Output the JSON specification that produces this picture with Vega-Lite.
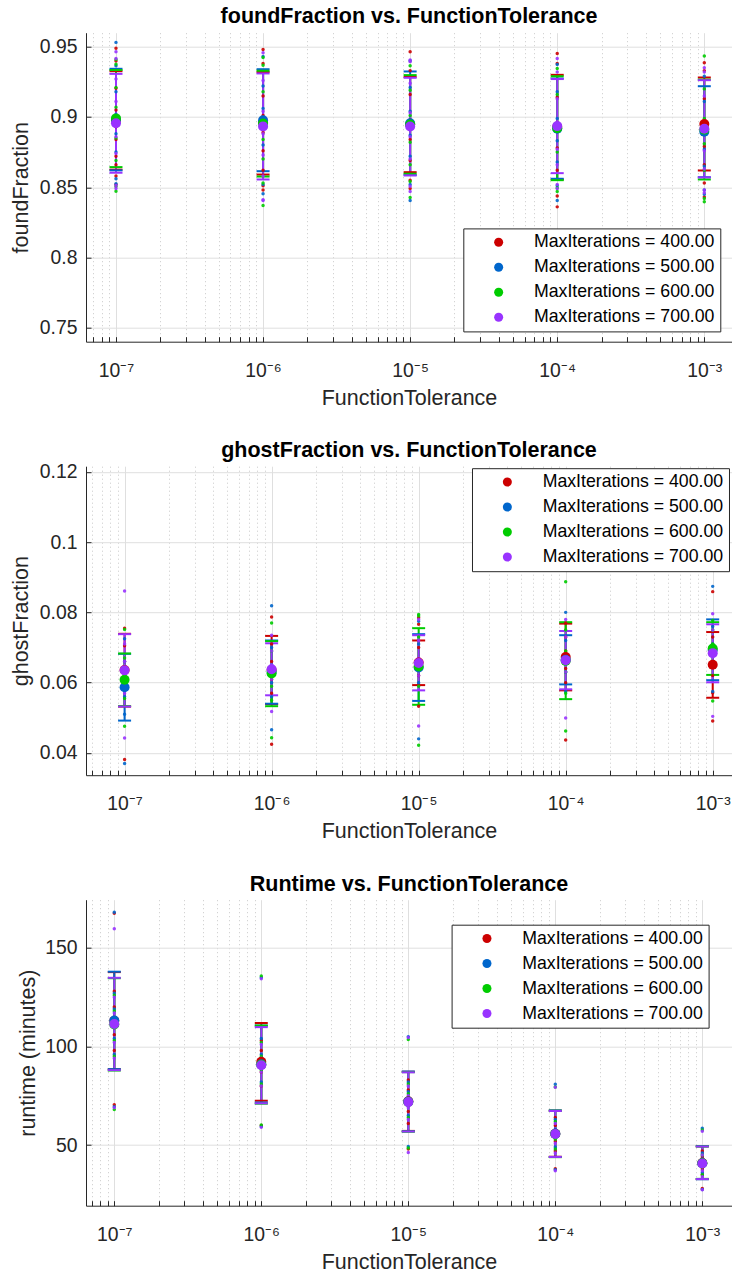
{
  "$schema": "https://vega.github.io/schema/vega-lite/v6.json",
  "autosize": {"type": "pad"},
  "padding": {"left": 10, "top": 5.7, "right": 0, "bottom": 0},
  "background": "white",
  "spacing": 124.5,
  "bounds": "flush",
  "resolve": {
    "scale": {"x": "independent", "y": "independent", "color": "shared"},
    "legend": {"color": "independent"}
  },
  "config": {
    "font": "Liberation Sans",
    "view": {"stroke": null},
    "axis": {
      "domainColor": "#262626",
      "domainWidth": 1,
      "tickColor": "#262626",
      "tickSize": -5,
      "labelColor": "#262626",
      "titleColor": "#262626",
      "labelFont": "Liberation Sans",
      "titleFont": "Liberation Sans",
      "labelFontSize": 19.4,
      "titleFontSize": 21.5,
      "titleFontWeight": "normal",
      "gridColor": "#dfdfdf",
      "gridWidth": 1,
      "labelOverlap": false,
      "labelFlush": false
    },
    "legend": {
      "padding": 5,
      "strokeColor": "#262626",
      "strokeWidth": 1,
      "fillColor": "#ffffff",
      "symbolType": "circle",
      "symbolSize": 81,
      "symbolStrokeWidth": 0,
      "symbolOffset": 21.5,
      "labelOffset": 26.5,
      "labelFont": "Liberation Sans",
      "labelFontSize": 17.7,
      "labelColor": "#000000",
      "rowPadding": 6,
      "labelLimit": 0
    },
    "title": {
      "font": "Liberation Sans",
      "fontSize": 21.5,
      "fontWeight": "bold",
      "color": "#000000",
      "anchor": "middle",
      "frame": "group",
      "baseline": "alphabetic"
    }
  },
  "datasets": {
    "pts": [
      {"p":"f","tol":1e-7,"it":400,"v":0.9489},{"p":"f","tol":1e-7,"it":400,"v":0.9398},{"p":"f","tol":1e-7,"it":400,"v":0.9205},{"p":"f","tol":1e-7,"it":400,"v":0.905},{"p":"f","tol":1e-7,"it":400,"v":0.893},{"p":"f","tol":1e-7,"it":400,"v":0.884},{"p":"f","tol":1e-7,"it":400,"v":0.872},{"p":"f","tol":1e-7,"it":400,"v":0.866},{"p":"f","tol":1e-7,"it":400,"v":0.858},{"p":"f","tol":1e-7,"it":400,"v":0.852},
      {"p":"f","tol":1e-7,"it":500,"v":0.9531},{"p":"f","tol":1e-7,"it":500,"v":0.9365},{"p":"f","tol":1e-7,"it":500,"v":0.918},{"p":"f","tol":1e-7,"it":500,"v":0.902},{"p":"f","tol":1e-7,"it":500,"v":0.895},{"p":"f","tol":1e-7,"it":500,"v":0.888},{"p":"f","tol":1e-7,"it":500,"v":0.875},{"p":"f","tol":1e-7,"it":500,"v":0.856},{"p":"f","tol":1e-7,"it":500,"v":0.8525},
      {"p":"f","tol":1e-7,"it":600,"v":0.9376},{"p":"f","tol":1e-7,"it":600,"v":0.941},{"p":"f","tol":1e-7,"it":600,"v":0.921},{"p":"f","tol":1e-7,"it":600,"v":0.907},{"p":"f","tol":1e-7,"it":600,"v":0.896},{"p":"f","tol":1e-7,"it":600,"v":0.885},{"p":"f","tol":1e-7,"it":600,"v":0.869},{"p":"f","tol":1e-7,"it":600,"v":0.8505},{"p":"f","tol":1e-7,"it":600,"v":0.8471},
      {"p":"f","tol":1e-7,"it":700,"v":0.9465},{"p":"f","tol":1e-7,"it":700,"v":0.9416},{"p":"f","tol":1e-7,"it":700,"v":0.927},{"p":"f","tol":1e-7,"it":700,"v":0.911},{"p":"f","tol":1e-7,"it":700,"v":0.899},{"p":"f","tol":1e-7,"it":700,"v":0.886},{"p":"f","tol":1e-7,"it":700,"v":0.874},{"p":"f","tol":1e-7,"it":700,"v":0.8512},{"p":"f","tol":1e-7,"it":700,"v":0.849},
      {"p":"f","tol":1e-6,"it":400,"v":0.9481},{"p":"f","tol":1e-6,"it":400,"v":0.938},{"p":"f","tol":1e-6,"it":400,"v":0.915},{"p":"f","tol":1e-6,"it":400,"v":0.901},{"p":"f","tol":1e-6,"it":400,"v":0.889},{"p":"f","tol":1e-6,"it":400,"v":0.876},{"p":"f","tol":1e-6,"it":400,"v":0.862},{"p":"f","tol":1e-6,"it":400,"v":0.851},{"p":"f","tol":1e-6,"it":400,"v":0.848},
      {"p":"f","tol":1e-6,"it":500,"v":0.943},{"p":"f","tol":1e-6,"it":500,"v":0.922},{"p":"f","tol":1e-6,"it":500,"v":0.906},{"p":"f","tol":1e-6,"it":500,"v":0.893},{"p":"f","tol":1e-6,"it":500,"v":0.88},{"p":"f","tol":1e-6,"it":500,"v":0.852},{"p":"f","tol":1e-6,"it":500,"v":0.8453},
      {"p":"f","tol":1e-6,"it":600,"v":0.9424},{"p":"f","tol":1e-6,"it":600,"v":0.9369},{"p":"f","tol":1e-6,"it":600,"v":0.918},{"p":"f","tol":1e-6,"it":600,"v":0.899},{"p":"f","tol":1e-6,"it":600,"v":0.884},{"p":"f","tol":1e-6,"it":600,"v":0.87},{"p":"f","tol":1e-6,"it":600,"v":0.853},{"p":"f","tol":1e-6,"it":600,"v":0.8369},
      {"p":"f","tol":1e-6,"it":700,"v":0.9457},{"p":"f","tol":1e-6,"it":700,"v":0.926},{"p":"f","tol":1e-6,"it":700,"v":0.904},{"p":"f","tol":1e-6,"it":700,"v":0.888},{"p":"f","tol":1e-6,"it":700,"v":0.873},{"p":"f","tol":1e-6,"it":700,"v":0.858},{"p":"f","tol":1e-6,"it":700,"v":0.841},{"p":"f","tol":1e-6,"it":700,"v":0.8405},
      {"p":"f","tol":1e-5,"it":400,"v":0.9465},{"p":"f","tol":1e-5,"it":400,"v":0.933},{"p":"f","tol":1e-5,"it":400,"v":0.916},{"p":"f","tol":1e-5,"it":400,"v":0.898},{"p":"f","tol":1e-5,"it":400,"v":0.884},{"p":"f","tol":1e-5,"it":400,"v":0.869},{"p":"f","tol":1e-5,"it":400,"v":0.855},{"p":"f","tol":1e-5,"it":400,"v":0.849},
      {"p":"f","tol":1e-5,"it":500,"v":0.94},{"p":"f","tol":1e-5,"it":500,"v":0.921},{"p":"f","tol":1e-5,"it":500,"v":0.904},{"p":"f","tol":1e-5,"it":500,"v":0.887},{"p":"f","tol":1e-5,"it":500,"v":0.872},{"p":"f","tol":1e-5,"it":500,"v":0.852},{"p":"f","tol":1e-5,"it":500,"v":0.8405},
      {"p":"f","tol":1e-5,"it":600,"v":0.9365},{"p":"f","tol":1e-5,"it":600,"v":0.919},{"p":"f","tol":1e-5,"it":600,"v":0.901},{"p":"f","tol":1e-5,"it":600,"v":0.882},{"p":"f","tol":1e-5,"it":600,"v":0.866},{"p":"f","tol":1e-5,"it":600,"v":0.854},{"p":"f","tol":1e-5,"it":600,"v":0.8426},
      {"p":"f","tol":1e-5,"it":700,"v":0.9405},{"p":"f","tol":1e-5,"it":700,"v":0.9394},{"p":"f","tol":1e-5,"it":700,"v":0.924},{"p":"f","tol":1e-5,"it":700,"v":0.903},{"p":"f","tol":1e-5,"it":700,"v":0.886},{"p":"f","tol":1e-5,"it":700,"v":0.87},{"p":"f","tol":1e-5,"it":700,"v":0.8507},{"p":"f","tol":1e-5,"it":700,"v":0.847},
      {"p":"f","tol":1e-4,"it":400,"v":0.9452},{"p":"f","tol":1e-4,"it":400,"v":0.938},{"p":"f","tol":1e-4,"it":400,"v":0.914},{"p":"f","tol":1e-4,"it":400,"v":0.896},{"p":"f","tol":1e-4,"it":400,"v":0.878},{"p":"f","tol":1e-4,"it":400,"v":0.862},{"p":"f","tol":1e-4,"it":400,"v":0.8438},{"p":"f","tol":1e-4,"it":400,"v":0.836},
      {"p":"f","tol":1e-4,"it":500,"v":0.9373},{"p":"f","tol":1e-4,"it":500,"v":0.918},{"p":"f","tol":1e-4,"it":500,"v":0.899},{"p":"f","tol":1e-4,"it":500,"v":0.883},{"p":"f","tol":1e-4,"it":500,"v":0.868},{"p":"f","tol":1e-4,"it":500,"v":0.851},{"p":"f","tol":1e-4,"it":500,"v":0.8405},
      {"p":"f","tol":1e-4,"it":600,"v":0.9345},{"p":"f","tol":1e-4,"it":600,"v":0.916},{"p":"f","tol":1e-4,"it":600,"v":0.895},{"p":"f","tol":1e-4,"it":600,"v":0.875},{"p":"f","tol":1e-4,"it":600,"v":0.8495},{"p":"f","tol":1e-4,"it":600,"v":0.847},
      {"p":"f","tol":1e-4,"it":700,"v":0.9417},{"p":"f","tol":1e-4,"it":700,"v":0.932},{"p":"f","tol":1e-4,"it":700,"v":0.913},{"p":"f","tol":1e-4,"it":700,"v":0.894},{"p":"f","tol":1e-4,"it":700,"v":0.877},{"p":"f","tol":1e-4,"it":700,"v":0.866},{"p":"f","tol":1e-4,"it":700,"v":0.852},{"p":"f","tol":1e-4,"it":700,"v":0.849},
      {"p":"f","tol":1e-3,"it":400,"v":0.9386},{"p":"f","tol":1e-3,"it":400,"v":0.933},{"p":"f","tol":1e-3,"it":400,"v":0.913},{"p":"f","tol":1e-3,"it":400,"v":0.897},{"p":"f","tol":1e-3,"it":400,"v":0.879},{"p":"f","tol":1e-3,"it":400,"v":0.866},{"p":"f","tol":1e-3,"it":400,"v":0.853},{"p":"f","tol":1e-3,"it":400,"v":0.843},
      {"p":"f","tol":1e-3,"it":500,"v":0.929},{"p":"f","tol":1e-3,"it":500,"v":0.911},{"p":"f","tol":1e-3,"it":500,"v":0.893},{"p":"f","tol":1e-3,"it":500,"v":0.877},{"p":"f","tol":1e-3,"it":500,"v":0.865},{"p":"f","tol":1e-3,"it":500,"v":0.848},{"p":"f","tol":1e-3,"it":500,"v":0.845},
      {"p":"f","tol":1e-3,"it":600,"v":0.9434},{"p":"f","tol":1e-3,"it":600,"v":0.92},{"p":"f","tol":1e-3,"it":600,"v":0.899},{"p":"f","tol":1e-3,"it":600,"v":0.881},{"p":"f","tol":1e-3,"it":600,"v":0.862},{"p":"f","tol":1e-3,"it":600,"v":0.842},{"p":"f","tol":1e-3,"it":600,"v":0.8397},
      {"p":"f","tol":1e-3,"it":700,"v":0.935},{"p":"f","tol":1e-3,"it":700,"v":0.932},{"p":"f","tol":1e-3,"it":700,"v":0.915},{"p":"f","tol":1e-3,"it":700,"v":0.894},{"p":"f","tol":1e-3,"it":700,"v":0.876},{"p":"f","tol":1e-3,"it":700,"v":0.863},{"p":"f","tol":1e-3,"it":700,"v":0.848},{"p":"f","tol":1e-3,"it":700,"v":0.846},

      {"p":"g","tol":1e-7,"it":400,"v":0.07545},{"p":"g","tol":1e-7,"it":400,"v":0.0705},{"p":"g","tol":1e-7,"it":400,"v":0.066},{"p":"g","tol":1e-7,"it":400,"v":0.062},{"p":"g","tol":1e-7,"it":400,"v":0.058},{"p":"g","tol":1e-7,"it":400,"v":0.0381},
      {"p":"g","tol":1e-7,"it":500,"v":0.0725},{"p":"g","tol":1e-7,"it":500,"v":0.066},{"p":"g","tol":1e-7,"it":500,"v":0.061},{"p":"g","tol":1e-7,"it":500,"v":0.056},{"p":"g","tol":1e-7,"it":500,"v":0.051},{"p":"g","tol":1e-7,"it":500,"v":0.037},
      {"p":"g","tol":1e-7,"it":600,"v":0.0751},{"p":"g","tol":1e-7,"it":600,"v":0.067},{"p":"g","tol":1e-7,"it":600,"v":0.062},{"p":"g","tol":1e-7,"it":600,"v":0.058},{"p":"g","tol":1e-7,"it":600,"v":0.0555},{"p":"g","tol":1e-7,"it":600,"v":0.04757},
      {"p":"g","tol":1e-7,"it":700,"v":0.0861},{"p":"g","tol":1e-7,"it":700,"v":0.071},{"p":"g","tol":1e-7,"it":700,"v":0.066},{"p":"g","tol":1e-7,"it":700,"v":0.061},{"p":"g","tol":1e-7,"it":700,"v":0.057},{"p":"g","tol":1e-7,"it":700,"v":0.04424},
      {"p":"g","tol":1e-6,"it":400,"v":0.0787},{"p":"g","tol":1e-6,"it":400,"v":0.071},{"p":"g","tol":1e-6,"it":400,"v":0.066},{"p":"g","tol":1e-6,"it":400,"v":0.061},{"p":"g","tol":1e-6,"it":400,"v":0.057},{"p":"g","tol":1e-6,"it":400,"v":0.04245},
      {"p":"g","tol":1e-6,"it":500,"v":0.0819},{"p":"g","tol":1e-6,"it":500,"v":0.07},{"p":"g","tol":1e-6,"it":500,"v":0.065},{"p":"g","tol":1e-6,"it":500,"v":0.06},{"p":"g","tol":1e-6,"it":500,"v":0.056},{"p":"g","tol":1e-6,"it":500,"v":0.0466},
      {"p":"g","tol":1e-6,"it":600,"v":0.077},{"p":"g","tol":1e-6,"it":600,"v":0.069},{"p":"g","tol":1e-6,"it":600,"v":0.064},{"p":"g","tol":1e-6,"it":600,"v":0.059},{"p":"g","tol":1e-6,"it":600,"v":0.055},{"p":"g","tol":1e-6,"it":600,"v":0.04433},
      {"p":"g","tol":1e-6,"it":700,"v":0.0735},{"p":"g","tol":1e-6,"it":700,"v":0.069},{"p":"g","tol":1e-6,"it":700,"v":0.065},{"p":"g","tol":1e-6,"it":700,"v":0.061},{"p":"g","tol":1e-6,"it":700,"v":0.0518},
      {"p":"g","tol":1e-5,"it":400,"v":0.0785},{"p":"g","tol":1e-5,"it":400,"v":0.0766},{"p":"g","tol":1e-5,"it":400,"v":0.07},{"p":"g","tol":1e-5,"it":400,"v":0.066},{"p":"g","tol":1e-5,"it":400,"v":0.062},{"p":"g","tol":1e-5,"it":400,"v":0.0533},
      {"p":"g","tol":1e-5,"it":500,"v":0.0775},{"p":"g","tol":1e-5,"it":500,"v":0.071},{"p":"g","tol":1e-5,"it":500,"v":0.066},{"p":"g","tol":1e-5,"it":500,"v":0.06},{"p":"g","tol":1e-5,"it":500,"v":0.044},
      {"p":"g","tol":1e-5,"it":600,"v":0.0794},{"p":"g","tol":1e-5,"it":600,"v":0.079},{"p":"g","tol":1e-5,"it":600,"v":0.073},{"p":"g","tol":1e-5,"it":600,"v":0.066},{"p":"g","tol":1e-5,"it":600,"v":0.059},{"p":"g","tol":1e-5,"it":600,"v":0.04216},
      {"p":"g","tol":1e-5,"it":700,"v":0.078},{"p":"g","tol":1e-5,"it":700,"v":0.072},{"p":"g","tol":1e-5,"it":700,"v":0.067},{"p":"g","tol":1e-5,"it":700,"v":0.062},{"p":"g","tol":1e-5,"it":700,"v":0.04765},
      {"p":"g","tol":1e-4,"it":400,"v":0.077},{"p":"g","tol":1e-4,"it":400,"v":0.073},{"p":"g","tol":1e-4,"it":400,"v":0.069},{"p":"g","tol":1e-4,"it":400,"v":0.064},{"p":"g","tol":1e-4,"it":400,"v":0.06},{"p":"g","tol":1e-4,"it":400,"v":0.04367},
      {"p":"g","tol":1e-4,"it":500,"v":0.08},{"p":"g","tol":1e-4,"it":500,"v":0.072},{"p":"g","tol":1e-4,"it":500,"v":0.068},{"p":"g","tol":1e-4,"it":500,"v":0.063},{"p":"g","tol":1e-4,"it":500,"v":0.0575},
      {"p":"g","tol":1e-4,"it":600,"v":0.0887},{"p":"g","tol":1e-4,"it":600,"v":0.075},{"p":"g","tol":1e-4,"it":600,"v":0.069},{"p":"g","tol":1e-4,"it":600,"v":0.063},{"p":"g","tol":1e-4,"it":600,"v":0.057},{"p":"g","tol":1e-4,"it":600,"v":0.04623},
      {"p":"g","tol":1e-4,"it":700,"v":0.078},{"p":"g","tol":1e-4,"it":700,"v":0.073},{"p":"g","tol":1e-4,"it":700,"v":0.068},{"p":"g","tol":1e-4,"it":700,"v":0.063},{"p":"g","tol":1e-4,"it":700,"v":0.04993},
      {"p":"g","tol":1e-3,"it":400,"v":0.0859},{"p":"g","tol":1e-3,"it":400,"v":0.073},{"p":"g","tol":1e-3,"it":400,"v":0.068},{"p":"g","tol":1e-3,"it":400,"v":0.062},{"p":"g","tol":1e-3,"it":400,"v":0.0571},{"p":"g","tol":1e-3,"it":400,"v":0.0491},
      {"p":"g","tol":1e-3,"it":500,"v":0.0874},{"p":"g","tol":1e-3,"it":500,"v":0.076},{"p":"g","tol":1e-3,"it":500,"v":0.071},{"p":"g","tol":1e-3,"it":500,"v":0.065},{"p":"g","tol":1e-3,"it":500,"v":0.0575},
      {"p":"g","tol":1e-3,"it":600,"v":0.0777},{"p":"g","tol":1e-3,"it":600,"v":0.075},{"p":"g","tol":1e-3,"it":600,"v":0.071},{"p":"g","tol":1e-3,"it":600,"v":0.066},{"p":"g","tol":1e-3,"it":600,"v":0.0548},
      {"p":"g","tol":1e-3,"it":700,"v":0.0796},{"p":"g","tol":1e-3,"it":700,"v":0.075},{"p":"g","tol":1e-3,"it":700,"v":0.07},{"p":"g","tol":1e-3,"it":700,"v":0.065},{"p":"g","tol":1e-3,"it":700,"v":0.0504},

      {"p":"r","tol":1e-7,"it":400,"v":167.5},{"p":"r","tol":1e-7,"it":400,"v":128},{"p":"r","tol":1e-7,"it":400,"v":120},{"p":"r","tol":1e-7,"it":400,"v":113},{"p":"r","tol":1e-7,"it":400,"v":106},{"p":"r","tol":1e-7,"it":400,"v":98},{"p":"r","tol":1e-7,"it":400,"v":70.5},
      {"p":"r","tol":1e-7,"it":500,"v":168},{"p":"r","tol":1e-7,"it":500,"v":127},{"p":"r","tol":1e-7,"it":500,"v":119},{"p":"r","tol":1e-7,"it":500,"v":112},{"p":"r","tol":1e-7,"it":500,"v":104},{"p":"r","tol":1e-7,"it":500,"v":96},{"p":"r","tol":1e-7,"it":500,"v":69.5},
      {"p":"r","tol":1e-7,"it":600,"v":126},{"p":"r","tol":1e-7,"it":600,"v":118},{"p":"r","tol":1e-7,"it":600,"v":110},{"p":"r","tol":1e-7,"it":600,"v":103},{"p":"r","tol":1e-7,"it":600,"v":95},{"p":"r","tol":1e-7,"it":600,"v":68},
      {"p":"r","tol":1e-7,"it":700,"v":159.7},{"p":"r","tol":1e-7,"it":700,"v":125},{"p":"r","tol":1e-7,"it":700,"v":117},{"p":"r","tol":1e-7,"it":700,"v":110},{"p":"r","tol":1e-7,"it":700,"v":102},{"p":"r","tol":1e-7,"it":700,"v":94},{"p":"r","tol":1e-7,"it":700,"v":69},
      {"p":"r","tol":1e-6,"it":400,"v":103},{"p":"r","tol":1e-6,"it":400,"v":98},{"p":"r","tol":1e-6,"it":400,"v":92},{"p":"r","tol":1e-6,"it":400,"v":87},{"p":"r","tol":1e-6,"it":400,"v":80},{"p":"r","tol":1e-6,"it":400,"v":60},
      {"p":"r","tol":1e-6,"it":500,"v":135},{"p":"r","tol":1e-6,"it":500,"v":104},{"p":"r","tol":1e-6,"it":500,"v":96},{"p":"r","tol":1e-6,"it":500,"v":89},{"p":"r","tol":1e-6,"it":500,"v":82},{"p":"r","tol":1e-6,"it":500,"v":59.5},
      {"p":"r","tol":1e-6,"it":600,"v":135.7},{"p":"r","tol":1e-6,"it":600,"v":102},{"p":"r","tol":1e-6,"it":600,"v":95},{"p":"r","tol":1e-6,"it":600,"v":88},{"p":"r","tol":1e-6,"it":600,"v":81},{"p":"r","tol":1e-6,"it":600,"v":60.2},
      {"p":"r","tol":1e-6,"it":700,"v":134.3},{"p":"r","tol":1e-6,"it":700,"v":101},{"p":"r","tol":1e-6,"it":700,"v":94},{"p":"r","tol":1e-6,"it":700,"v":87},{"p":"r","tol":1e-6,"it":700,"v":80},{"p":"r","tol":1e-6,"it":700,"v":59},
      {"p":"r","tol":1e-5,"it":400,"v":83},{"p":"r","tol":1e-5,"it":400,"v":78},{"p":"r","tol":1e-5,"it":400,"v":72},{"p":"r","tol":1e-5,"it":400,"v":67},{"p":"r","tol":1e-5,"it":400,"v":61},{"p":"r","tol":1e-5,"it":400,"v":48},
      {"p":"r","tol":1e-5,"it":500,"v":105},{"p":"r","tol":1e-5,"it":500,"v":82},{"p":"r","tol":1e-5,"it":500,"v":77},{"p":"r","tol":1e-5,"it":500,"v":71},{"p":"r","tol":1e-5,"it":500,"v":65},{"p":"r","tol":1e-5,"it":500,"v":49.3},
      {"p":"r","tol":1e-5,"it":600,"v":103.5},{"p":"r","tol":1e-5,"it":600,"v":81},{"p":"r","tol":1e-5,"it":600,"v":76},{"p":"r","tol":1e-5,"it":600,"v":70},{"p":"r","tol":1e-5,"it":600,"v":64},{"p":"r","tol":1e-5,"it":600,"v":48.5},
      {"p":"r","tol":1e-5,"it":700,"v":104.5},{"p":"r","tol":1e-5,"it":700,"v":80},{"p":"r","tol":1e-5,"it":700,"v":75},{"p":"r","tol":1e-5,"it":700,"v":69},{"p":"r","tol":1e-5,"it":700,"v":63},{"p":"r","tol":1e-5,"it":700,"v":46.3},
      {"p":"r","tol":1e-4,"it":400,"v":64},{"p":"r","tol":1e-4,"it":400,"v":60},{"p":"r","tol":1e-4,"it":400,"v":56},{"p":"r","tol":1e-4,"it":400,"v":52},{"p":"r","tol":1e-4,"it":400,"v":47},{"p":"r","tol":1e-4,"it":400,"v":38},
      {"p":"r","tol":1e-4,"it":500,"v":80.8},{"p":"r","tol":1e-4,"it":500,"v":63},{"p":"r","tol":1e-4,"it":500,"v":58},{"p":"r","tol":1e-4,"it":500,"v":54},{"p":"r","tol":1e-4,"it":500,"v":49},{"p":"r","tol":1e-4,"it":500,"v":37.5},
      {"p":"r","tol":1e-4,"it":600,"v":79.5},{"p":"r","tol":1e-4,"it":600,"v":62},{"p":"r","tol":1e-4,"it":600,"v":57},{"p":"r","tol":1e-4,"it":600,"v":53},{"p":"r","tol":1e-4,"it":600,"v":48},
      {"p":"r","tol":1e-4,"it":700,"v":79.3},{"p":"r","tol":1e-4,"it":700,"v":61},{"p":"r","tol":1e-4,"it":700,"v":56},{"p":"r","tol":1e-4,"it":700,"v":51},{"p":"r","tol":1e-4,"it":700,"v":46},{"p":"r","tol":1e-4,"it":700,"v":37},
      {"p":"r","tol":1e-3,"it":400,"v":47},{"p":"r","tol":1e-3,"it":400,"v":44},{"p":"r","tol":1e-3,"it":400,"v":41},{"p":"r","tol":1e-3,"it":400,"v":38},{"p":"r","tol":1e-3,"it":400,"v":35},{"p":"r","tol":1e-3,"it":400,"v":28},
      {"p":"r","tol":1e-3,"it":500,"v":58.5},{"p":"r","tol":1e-3,"it":500,"v":46},{"p":"r","tol":1e-3,"it":500,"v":43},{"p":"r","tol":1e-3,"it":500,"v":40},{"p":"r","tol":1e-3,"it":500,"v":36},{"p":"r","tol":1e-3,"it":500,"v":27.5},
      {"p":"r","tol":1e-3,"it":600,"v":57.7},{"p":"r","tol":1e-3,"it":600,"v":45},{"p":"r","tol":1e-3,"it":600,"v":42},{"p":"r","tol":1e-3,"it":600,"v":39},{"p":"r","tol":1e-3,"it":600,"v":35},
      {"p":"r","tol":1e-3,"it":700,"v":57},{"p":"r","tol":1e-3,"it":700,"v":45},{"p":"r","tol":1e-3,"it":700,"v":41},{"p":"r","tol":1e-3,"it":700,"v":37},{"p":"r","tol":1e-3,"it":700,"v":34},{"p":"r","tol":1e-3,"it":700,"v":27.4}
    ],
    "stats": [
      {"p":"f","tol":1e-7,"it":400,"m":0.8975,"lo":0.8625,"hi":0.9326},
      {"p":"f","tol":1e-7,"it":500,"m":0.898,"lo":0.862,"hi":0.9343},
      {"p":"f","tol":1e-7,"it":600,"m":0.899,"lo":0.8643,"hi":0.9334},
      {"p":"f","tol":1e-7,"it":700,"m":0.8955,"lo":0.8603,"hi":0.9307},
      {"p":"f","tol":1e-6,"it":400,"m":0.896,"lo":0.859,"hi":0.932},
      {"p":"f","tol":1e-6,"it":500,"m":0.8977,"lo":0.8614,"hi":0.934},
      {"p":"f","tol":1e-6,"it":600,"m":0.8953,"lo":0.8576,"hi":0.9329},
      {"p":"f","tol":1e-6,"it":700,"m":0.8933,"lo":0.8555,"hi":0.931},
      {"p":"f","tol":1e-5,"it":400,"m":0.8947,"lo":0.8607,"hi":0.9286},
      {"p":"f","tol":1e-5,"it":500,"m":0.8955,"lo":0.8586,"hi":0.9324},
      {"p":"f","tol":1e-5,"it":600,"m":0.8947,"lo":0.8596,"hi":0.9298},
      {"p":"f","tol":1e-5,"it":700,"m":0.8932,"lo":0.8584,"hi":0.9279},
      {"p":"f","tol":1e-4,"it":400,"m":0.8928,"lo":0.8555,"hi":0.93},
      {"p":"f","tol":1e-4,"it":500,"m":0.8917,"lo":0.856,"hi":0.9274},
      {"p":"f","tol":1e-4,"it":600,"m":0.892,"lo":0.855,"hi":0.929},
      {"p":"f","tol":1e-4,"it":700,"m":0.8935,"lo":0.86,"hi":0.927},
      {"p":"f","tol":1e-3,"it":400,"m":0.895,"lo":0.8619,"hi":0.9281},
      {"p":"f","tol":1e-3,"it":500,"m":0.8895,"lo":0.8571,"hi":0.9219},
      {"p":"f","tol":1e-3,"it":600,"m":0.891,"lo":0.8555,"hi":0.9266},
      {"p":"f","tol":1e-3,"it":700,"m":0.8916,"lo":0.857,"hi":0.9262},

      {"p":"g","tol":1e-7,"it":400,"m":0.0636,"lo":0.0532,"hi":0.0739},
      {"p":"g","tol":1e-7,"it":500,"m":0.0587,"lo":0.0492,"hi":0.0682},
      {"p":"g","tol":1e-7,"it":600,"m":0.0608,"lo":0.0533,"hi":0.0683},
      {"p":"g","tol":1e-7,"it":700,"m":0.0635,"lo":0.0532,"hi":0.0738},
      {"p":"g","tol":1e-6,"it":400,"m":0.0636,"lo":0.0539,"hi":0.0733},
      {"p":"g","tol":1e-6,"it":500,"m":0.063,"lo":0.054,"hi":0.072},
      {"p":"g","tol":1e-6,"it":600,"m":0.0626,"lo":0.0533,"hi":0.0718},
      {"p":"g","tol":1e-6,"it":700,"m":0.0638,"lo":0.0564,"hi":0.0712},
      {"p":"g","tol":1e-5,"it":400,"m":0.0657,"lo":0.0593,"hi":0.072},
      {"p":"g","tol":1e-5,"it":500,"m":0.0643,"lo":0.0548,"hi":0.0738},
      {"p":"g","tol":1e-5,"it":600,"m":0.0646,"lo":0.0537,"hi":0.0755},
      {"p":"g","tol":1e-5,"it":700,"m":0.0656,"lo":0.0578,"hi":0.0735},
      {"p":"g","tol":1e-4,"it":400,"m":0.0673,"lo":0.0578,"hi":0.0768},
      {"p":"g","tol":1e-4,"it":500,"m":0.0665,"lo":0.0595,"hi":0.0735},
      {"p":"g","tol":1e-4,"it":600,"m":0.0662,"lo":0.0553,"hi":0.0772},
      {"p":"g","tol":1e-4,"it":700,"m":0.0664,"lo":0.0581,"hi":0.0747},
      {"p":"g","tol":1e-3,"it":400,"m":0.0651,"lo":0.0557,"hi":0.0744},
      {"p":"g","tol":1e-3,"it":500,"m":0.0693,"lo":0.0607,"hi":0.078},
      {"p":"g","tol":1e-3,"it":600,"m":0.0697,"lo":0.0622,"hi":0.0772},
      {"p":"g","tol":1e-3,"it":700,"m":0.0684,"lo":0.0601,"hi":0.0766},

      {"p":"r","tol":1e-7,"it":400,"m":113,"lo":88.5,"hi":137.7},
      {"p":"r","tol":1e-7,"it":500,"m":113.2,"lo":88.5,"hi":137.9},
      {"p":"r","tol":1e-7,"it":600,"m":111.2,"lo":87.8,"hi":134.6},
      {"p":"r","tol":1e-7,"it":700,"m":111.4,"lo":88,"hi":134.8},
      {"p":"r","tol":1e-6,"it":400,"m":92.2,"lo":72.5,"hi":111.9},
      {"p":"r","tol":1e-6,"it":500,"m":91,"lo":71.6,"hi":110.6},
      {"p":"r","tol":1e-6,"it":600,"m":90.8,"lo":71,"hi":110.6},
      {"p":"r","tol":1e-6,"it":700,"m":90.5,"lo":71.2,"hi":109.8},
      {"p":"r","tol":1e-5,"it":400,"m":72.2,"lo":57.2,"hi":87.2},
      {"p":"r","tol":1e-5,"it":500,"m":72.1,"lo":57,"hi":87.3},
      {"p":"r","tol":1e-5,"it":600,"m":71.9,"lo":56.8,"hi":87},
      {"p":"r","tol":1e-5,"it":700,"m":71.8,"lo":56.9,"hi":86.9},
      {"p":"r","tol":1e-4,"it":400,"m":55.8,"lo":44.1,"hi":67.5},
      {"p":"r","tol":1e-4,"it":500,"m":55.7,"lo":44,"hi":67.6},
      {"p":"r","tol":1e-4,"it":600,"m":55.6,"lo":43.9,"hi":67.4},
      {"p":"r","tol":1e-4,"it":700,"m":55.6,"lo":44,"hi":67.3},
      {"p":"r","tol":1e-3,"it":400,"m":40.9,"lo":32.8,"hi":49.4},
      {"p":"r","tol":1e-3,"it":500,"m":40.8,"lo":32.7,"hi":49.5},
      {"p":"r","tol":1e-3,"it":600,"m":40.8,"lo":32.9,"hi":49.3},
      {"p":"r","tol":1e-3,"it":700,"m":40.7,"lo":32.8,"hi":49.3}
    ]
  },
  "vconcat": [
    {
      "width": 646,
      "height": 309,
      "title": {"text": "foundFraction vs. FunctionTolerance", "offset": 5.4},
      "encoding": {
        "x": {
          "field": "tol", "type": "quantitative", "title": "FunctionTolerance",
          "scale": {"type": "log", "domain": [6.254e-8, 1.5426e-3], "nice": false},
          "axis": {
            "values": [7e-8, 8e-8, 9e-8, 1e-7, 2e-7, 3e-7, 4e-7, 5e-7, 6e-7, 7e-7, 8e-7, 9e-7, 1e-6, 2e-6, 3e-6, 4e-6, 5e-6, 6e-6, 7e-6, 8e-6, 9e-6, 1e-5, 2e-5, 3e-5, 4e-5, 5e-5, 6e-5, 7e-5, 8e-5, 9e-5, 1e-4, 2e-4, 3e-4, 4e-4, 5e-4, 6e-4, 7e-4, 8e-4, 9e-4, 1e-3],
            "labelExpr": "abs(log(datum.value)/LN10 - round(log(datum.value)/LN10)) < 0.001 ? '10' + replace(replace(replace(replace(replace(replace('' + round(log(datum.value)/LN10), '-', '⁻'), '7', '⁷'), '6', '⁶'), '5', '⁵'), '4', '⁴'), '3', '³') : ''",
            "labelBaseline": "alphabetic",
            "labelAlign": "center",
            "labelPadding": 39.4,
            "titleY": 62.7,
            "titleBaseline": "alphabetic",
            "gridDash": {"condition": {"test": "abs(log(datum.value)/LN10 - round(log(datum.value)/LN10)) < 0.001", "value": []}, "value": [1, 3]},
            "gridColor": {"condition": {"test": "abs(log(datum.value)/LN10 - round(log(datum.value)/LN10)) < 0.001", "value": "#dfdfdf"}, "value": "#c9c9c9"}
          }
        },
        "color": {
          "field": "it", "type": "nominal",
          "scale": {"domain": [400, 500, 600, 700], "range": ["#cc0000", "#0066cc", "#00cc00", "#9933ff"]},
          "legend": {"orient": "none", "legendX": 377.3, "legendY": 195.7, "title": null, "labelExpr": "'MaxIterations = ' + format(datum.value, '.2f')"}
        }
      },
      "layer": [
        {
          "data": {"name": "stats"},
          "transform": [{"filter": "datum.p == 'f'"}],
          "mark": {"type": "rule", "strokeWidth": 2},
          "encoding": {
            "y": {"field": "lo", "type": "quantitative", "title": "foundFraction",
                  "scale": {"domain": [0.74, 0.96], "nice": false, "zero": false},
                  "axis": {"values": [0.75, 0.8, 0.85, 0.9, 0.95], "labelExpr": "'' + datum.value", "labelPadding": 14, "labelBaseline": "middle", "titleX": -58.4, "titleY": 154.5, "titleAngle": 270, "titleAlign": "center", "titleBaseline": "alphabetic"}},
            "y2": {"field": "hi"}
          }
        },
        {
          "data": {"name": "stats"},
          "transform": [{"filter": "datum.p == 'f'"}],
          "mark": {"type": "tick", "orient": "horizontal", "size": 13, "thickness": 2, "opacity": 1},
          "encoding": {
            "y": {"field": "hi", "type": "quantitative", "title": "foundFraction", "scale": {"domain": [0.74, 0.96], "nice": false, "zero": false}}
          }
        },
        {
          "data": {"name": "stats"},
          "transform": [{"filter": "datum.p == 'f'"}],
          "mark": {"type": "tick", "orient": "horizontal", "size": 13, "thickness": 2, "opacity": 1},
          "encoding": {
            "y": {"field": "lo", "type": "quantitative", "title": "foundFraction", "scale": {"domain": [0.74, 0.96], "nice": false, "zero": false}}
          }
        },
        {
          "data": {"name": "pts"},
          "transform": [{"filter": "datum.p == 'f'"}],
          "mark": {"type": "point", "filled": true, "size": 12, "opacity": 0.9},
          "encoding": {
            "y": {"field": "v", "type": "quantitative", "title": "foundFraction", "scale": {"domain": [0.74, 0.96], "nice": false, "zero": false}}
          }
        },
        {
          "data": {"name": "stats"},
          "transform": [{"filter": "datum.p == 'f'"}],
          "mark": {"type": "point", "filled": true, "size": 100, "opacity": 1},
          "encoding": {
            "y": {"field": "m", "type": "quantitative", "title": "foundFraction", "scale": {"domain": [0.74, 0.96], "nice": false, "zero": false}}
          }
        }
      ]
    },
    {
      "width": 646,
      "height": 309,
      "title": {"text": "ghostFraction vs. FunctionTolerance", "offset": 0.4},
      "encoding": {
        "x": {
          "field": "tol", "type": "quantitative", "title": "FunctionTolerance",
          "scale": {"type": "log", "domain": [5.465e-8, 1.3527e-3], "nice": false},
          "axis": {
            "values": [6e-8, 7e-8, 8e-8, 9e-8, 1e-7, 2e-7, 3e-7, 4e-7, 5e-7, 6e-7, 7e-7, 8e-7, 9e-7, 1e-6, 2e-6, 3e-6, 4e-6, 5e-6, 6e-6, 7e-6, 8e-6, 9e-6, 1e-5, 2e-5, 3e-5, 4e-5, 5e-5, 6e-5, 7e-5, 8e-5, 9e-5, 1e-4, 2e-4, 3e-4, 4e-4, 5e-4, 6e-4, 7e-4, 8e-4, 9e-4, 1e-3],
            "labelExpr": "abs(log(datum.value)/LN10 - round(log(datum.value)/LN10)) < 0.001 ? '10' + replace(replace(replace(replace(replace(replace('' + round(log(datum.value)/LN10), '-', '⁻'), '7', '⁷'), '6', '⁶'), '5', '⁵'), '4', '⁴'), '3', '³') : ''",
            "labelBaseline": "alphabetic",
            "labelAlign": "center",
            "labelPadding": 39.4,
            "titleY": 62.7,
            "titleBaseline": "alphabetic",
            "gridDash": {"condition": {"test": "abs(log(datum.value)/LN10 - round(log(datum.value)/LN10)) < 0.001", "value": []}, "value": [1, 3]},
            "gridColor": {"condition": {"test": "abs(log(datum.value)/LN10 - round(log(datum.value)/LN10)) < 0.001", "value": "#dfdfdf"}, "value": "#c9c9c9"}
          }
        },
        "color": {
          "field": "it", "type": "nominal",
          "scale": {"domain": [400, 500, 600, 700], "range": ["#cc0000", "#0066cc", "#00cc00", "#9933ff"]},
          "legend": {"orient": "none", "legendX": 386, "legendY": 2, "title": null, "labelExpr": "'MaxIterations = ' + format(datum.value, '.2f')"}
        }
      },
      "layer": [
        {
          "data": {"name": "stats"},
          "transform": [{"filter": "datum.p == 'g'"}],
          "mark": {"type": "rule", "strokeWidth": 2},
          "encoding": {
            "y": {"field": "lo", "type": "quantitative", "title": "ghostFraction",
                  "scale": {"domain": [0.03366, 0.1216], "nice": false, "zero": false},
                  "axis": {"values": [0.04, 0.06, 0.08, 0.1, 0.12], "labelExpr": "'' + datum.value", "labelPadding": 14, "labelBaseline": "middle", "titleX": -58.4, "titleY": 154.5, "titleAngle": 270, "titleAlign": "center", "titleBaseline": "alphabetic"}},
            "y2": {"field": "hi"}
          }
        },
        {
          "data": {"name": "stats"},
          "transform": [{"filter": "datum.p == 'g'"}],
          "mark": {"type": "tick", "orient": "horizontal", "size": 13, "thickness": 2, "opacity": 1},
          "encoding": {
            "y": {"field": "hi", "type": "quantitative", "title": "ghostFraction", "scale": {"domain": [0.03366, 0.1216], "nice": false, "zero": false}}
          }
        },
        {
          "data": {"name": "stats"},
          "transform": [{"filter": "datum.p == 'g'"}],
          "mark": {"type": "tick", "orient": "horizontal", "size": 13, "thickness": 2, "opacity": 1},
          "encoding": {
            "y": {"field": "lo", "type": "quantitative", "title": "ghostFraction", "scale": {"domain": [0.03366, 0.1216], "nice": false, "zero": false}}
          }
        },
        {
          "data": {"name": "pts"},
          "transform": [{"filter": "datum.p == 'g'"}],
          "mark": {"type": "point", "filled": true, "size": 12, "opacity": 0.9},
          "encoding": {
            "y": {"field": "v", "type": "quantitative", "title": "ghostFraction", "scale": {"domain": [0.03366, 0.1216], "nice": false, "zero": false}}
          }
        },
        {
          "data": {"name": "stats"},
          "transform": [{"filter": "datum.p == 'g'"}],
          "mark": {"type": "point", "filled": true, "size": 100, "opacity": 1},
          "encoding": {
            "y": {"field": "m", "type": "quantitative", "title": "ghostFraction", "scale": {"domain": [0.03366, 0.1216], "nice": false, "zero": false}}
          }
        }
      ]
    },
    {
      "width": 646,
      "height": 306,
      "title": {"text": "Runtime vs. FunctionTolerance", "offset": 4.6},
      "encoding": {
        "x": {
          "field": "tol", "type": "quantitative", "title": "FunctionTolerance",
          "scale": {"type": "log", "domain": [6.421e-8, 1.5922e-3], "nice": false},
          "axis": {
            "values": [7e-8, 8e-8, 9e-8, 1e-7, 2e-7, 3e-7, 4e-7, 5e-7, 6e-7, 7e-7, 8e-7, 9e-7, 1e-6, 2e-6, 3e-6, 4e-6, 5e-6, 6e-6, 7e-6, 8e-6, 9e-6, 1e-5, 2e-5, 3e-5, 4e-5, 5e-5, 6e-5, 7e-5, 8e-5, 9e-5, 1e-4, 2e-4, 3e-4, 4e-4, 5e-4, 6e-4, 7e-4, 8e-4, 9e-4, 1e-3],
            "labelExpr": "abs(log(datum.value)/LN10 - round(log(datum.value)/LN10)) < 0.001 ? '10' + replace(replace(replace(replace(replace(replace('' + round(log(datum.value)/LN10), '-', '⁻'), '7', '⁷'), '6', '⁶'), '5', '⁵'), '4', '⁴'), '3', '³') : ''",
            "labelBaseline": "alphabetic",
            "labelAlign": "center",
            "labelPadding": 39.4,
            "titleY": 62.7,
            "titleBaseline": "alphabetic",
            "gridDash": {"condition": {"test": "abs(log(datum.value)/LN10 - round(log(datum.value)/LN10)) < 0.001", "value": []}, "value": [1, 3]},
            "gridColor": {"condition": {"test": "abs(log(datum.value)/LN10 - round(log(datum.value)/LN10)) < 0.001", "value": "#dfdfdf"}, "value": "#c9c9c9"}
          }
        },
        "color": {
          "field": "it", "type": "nominal",
          "scale": {"domain": [400, 500, 600, 700], "range": ["#cc0000", "#0066cc", "#00cc00", "#9933ff"]},
          "legend": {"orient": "none", "legendX": 365.6, "legendY": 25, "title": null, "labelExpr": "'MaxIterations = ' + format(datum.value, '.2f')"}
        }
      },
      "layer": [
        {
          "data": {"name": "stats"},
          "transform": [{"filter": "datum.p == 'r'"}],
          "mark": {"type": "rule", "strokeWidth": 2},
          "encoding": {
            "y": {"field": "lo", "type": "quantitative", "title": "runtime (minutes)",
                  "scale": {"domain": [19.3, 174.4], "nice": false, "zero": false},
                  "axis": {"values": [50, 100, 150], "labelExpr": "'' + datum.value", "labelPadding": 14, "labelBaseline": "middle", "titleX": -52, "titleY": 153, "titleAngle": 270, "titleAlign": "center", "titleBaseline": "alphabetic"}},
            "y2": {"field": "hi"}
          }
        },
        {
          "data": {"name": "stats"},
          "transform": [{"filter": "datum.p == 'r'"}],
          "mark": {"type": "tick", "orient": "horizontal", "size": 13, "thickness": 2, "opacity": 1},
          "encoding": {
            "y": {"field": "hi", "type": "quantitative", "title": "runtime (minutes)", "scale": {"domain": [19.3, 174.4], "nice": false, "zero": false}}
          }
        },
        {
          "data": {"name": "stats"},
          "transform": [{"filter": "datum.p == 'r'"}],
          "mark": {"type": "tick", "orient": "horizontal", "size": 13, "thickness": 2, "opacity": 1},
          "encoding": {
            "y": {"field": "lo", "type": "quantitative", "title": "runtime (minutes)", "scale": {"domain": [19.3, 174.4], "nice": false, "zero": false}}
          }
        },
        {
          "data": {"name": "pts"},
          "transform": [{"filter": "datum.p == 'r'"}],
          "mark": {"type": "point", "filled": true, "size": 12, "opacity": 0.9},
          "encoding": {
            "y": {"field": "v", "type": "quantitative", "title": "runtime (minutes)", "scale": {"domain": [19.3, 174.4], "nice": false, "zero": false}}
          }
        },
        {
          "data": {"name": "stats"},
          "transform": [{"filter": "datum.p == 'r'"}],
          "mark": {"type": "point", "filled": true, "size": 100, "opacity": 1},
          "encoding": {
            "y": {"field": "m", "type": "quantitative", "title": "runtime (minutes)", "scale": {"domain": [19.3, 174.4], "nice": false, "zero": false}}
          }
        }
      ]
    }
  ]
}
